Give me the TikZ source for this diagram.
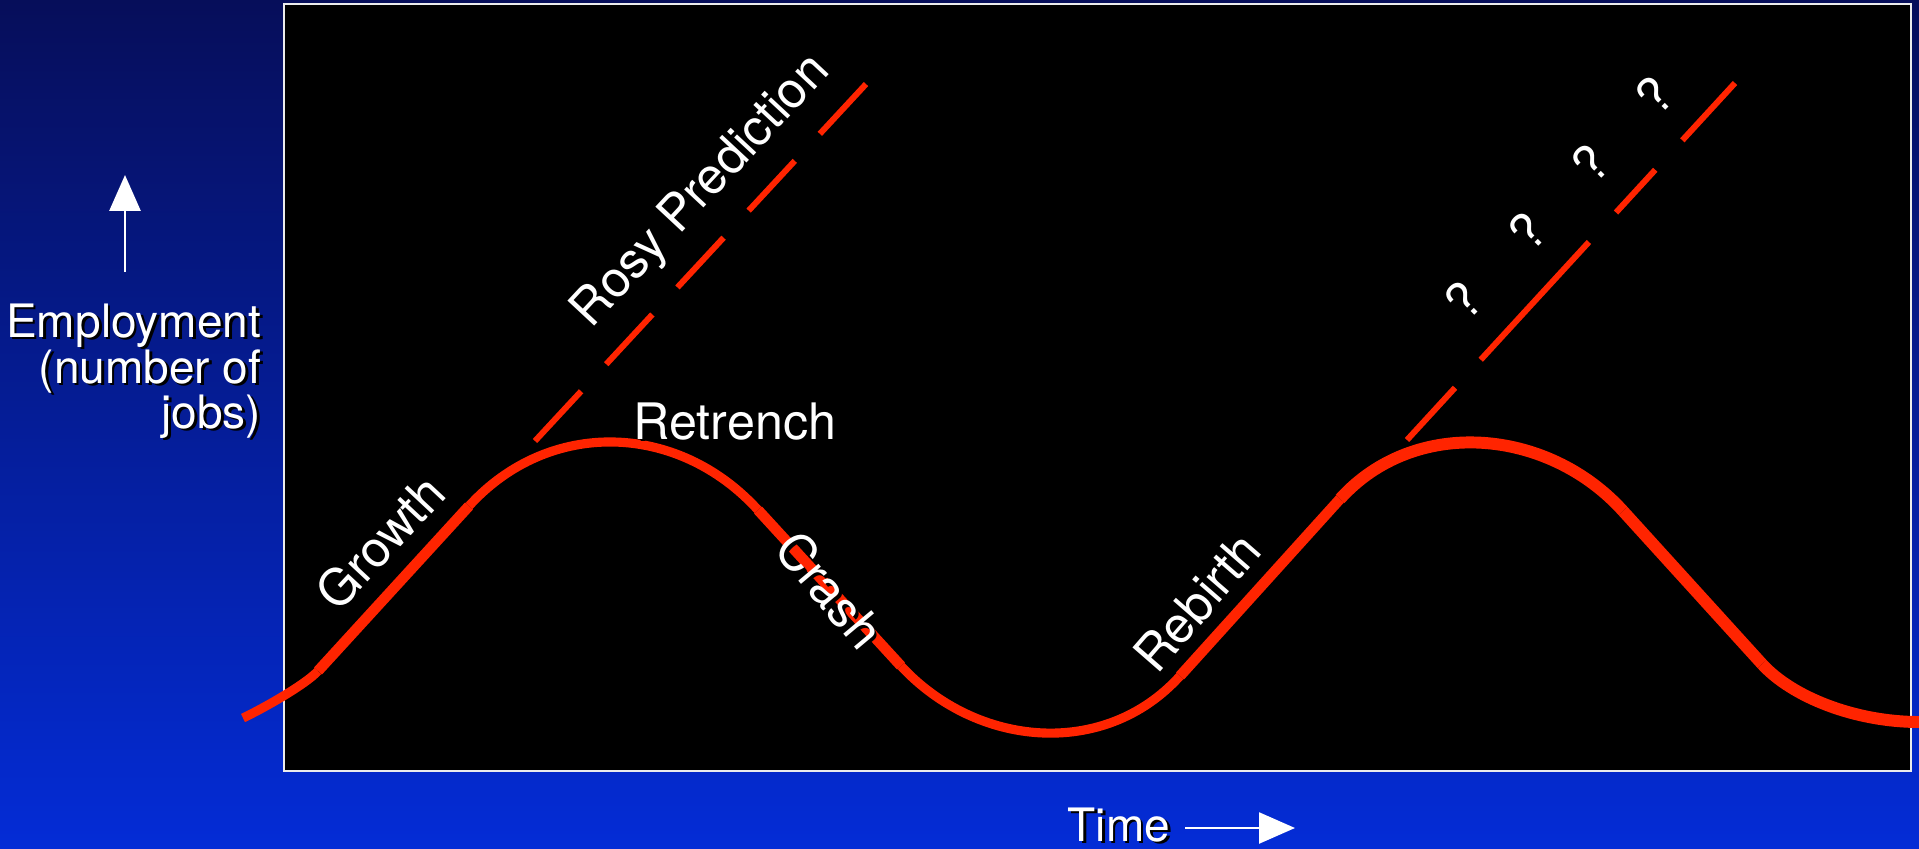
\documentclass[tikz,border=0pt]{standalone}
\usepackage{fontspec}
\setmainfont{TeX Gyre Heros}
\usetikzlibrary{arrows.meta}
\definecolor{jobred}{RGB}{255,36,0}
\definecolor{slidetop}{RGB}{6,14,90}
\definecolor{slidebot}{RGB}{4,44,214}
\tikzset{
  axislabel/.style={text=white, inner sep=0pt, font=\fontsize{13.1}{15}\selectfont},
  curvelabel/.style={text=white, inner sep=0pt, font=\fontsize{14.3}{17}\selectfont},
  jobline/.style={jobred, line width=2.6pt},
  jobstraight/.style={jobred, line width=3pt},
  rebound/.style={jobred, line width=3.4pt},
  forecast/.style={jobred, line width=1.7pt},
  axisarrow/.style={white, -{Triangle[length=0.36cm, width=0.31cm]}},
}
% white text with a small black drop shadow
\newcommand{\shadowed}[4]{%
  \node[#2, text=black] (#3-sh) at ([shift={(0.027,-0.027)}]#1) {#4};
  \node[#2] (#3) at (#1) {#4};
}
\begin{document}
\begin{tikzpicture}
	\shade[top color=slidetop, bottom color=slidebot] (0,0) rectangle (19.19,8.48);
	\useasboundingbox (0,0) rectangle (19.19,8.48);
	\filldraw[fill=black, draw=white!85!gray, line width=0.6pt] (2.84,0.77) rectangle (19.11,8.44);
	% first cycle
	\draw[jobline] (2.43,1.30) .. controls (2.62,1.39) and (3.05,1.63) .. (3.18,1.77);
	\draw[jobstraight] (3.18,1.77) -- (4.69,3.42);
	\draw[jobline] (4.69,3.42) .. controls (5.49,4.30) and (6.78,4.26) .. (7.58,3.38);
	\draw[jobstraight] (7.58,3.38) -- (9.01,1.82);
	\draw[jobline] (9.01,1.82) .. controls (9.77,1.00) and (11.05,0.89) .. (11.80,1.72);
	% second cycle
	\draw[jobstraight] (11.80,1.72) -- (13.40,3.49);
	\draw[rebound] (13.40,3.49) .. controls (14.15,4.32) and (15.48,4.20) .. (16.23,3.37);
	\draw[rebound] (16.23,3.37) -- (17.62,1.84);
	\draw[rebound] (17.62,1.84) .. controls (17.92,1.51) and (18.55,1.26) .. (19.19,1.26);
	% predictions
	\draw[forecast, dash pattern=on 19.3pt off 10.5pt] (5.35,4.07) -- (8.67,7.65);
	\draw[forecast, dash pattern=on 20.2pt off 10.8pt on 45.5pt off 11.4pt on 16.5pt off 11.4pt on 22.2pt off 20pt] (14.07,4.08) -- (17.35,7.65);
	% labels on the curve
	\shadowed{3.80,3.06}{curvelabel, rotate=47}{growth}{Growth}
	\shadowed{6.33,4.09}{curvelabel, anchor=base west}{retrench}{Retrench}
	\shadowed{8.30,2.58}{curvelabel, rotate=-50}{crash}{Crash}
	\shadowed{11.97,2.46}{curvelabel, rotate=49}{rebirth}{Rebirth}
	\shadowed{7.02,6.56}{curvelabel, rotate=47}{rosy}{Rosy Prediction}
	\foreach \i in {0,...,3} {
		\shadowed{14.63+0.637*\i,5.48+0.683*\i}{curvelabel, rotate=45}{q\i}{?}
	}
	% axes
	\shadowed{2.62,5.11}{axislabel, anchor=base east}{emp}{Employment}
	\shadowed{2.62,4.65}{axislabel, anchor=base east}{num}{(number of}
	\shadowed{2.62,4.20}{axislabel, anchor=base east}{jobs}{jobs)}
	\shadowed{10.67,0.07}{axislabel, anchor=base west}{time}{Time}
	\coordinate (ytail) at (1.25,5.76);
	\coordinate (ytip) at (1.25,6.73);
	\draw[axisarrow, line width=0.85pt] (ytail) -- (ytip);
	\coordinate (ttail) at (11.85,0.20);
	\coordinate (ttip) at (12.95,0.20);
	\draw[axisarrow, line width=0.7pt] (ttail) -- (ttip);
\end{tikzpicture}
\end{document}
